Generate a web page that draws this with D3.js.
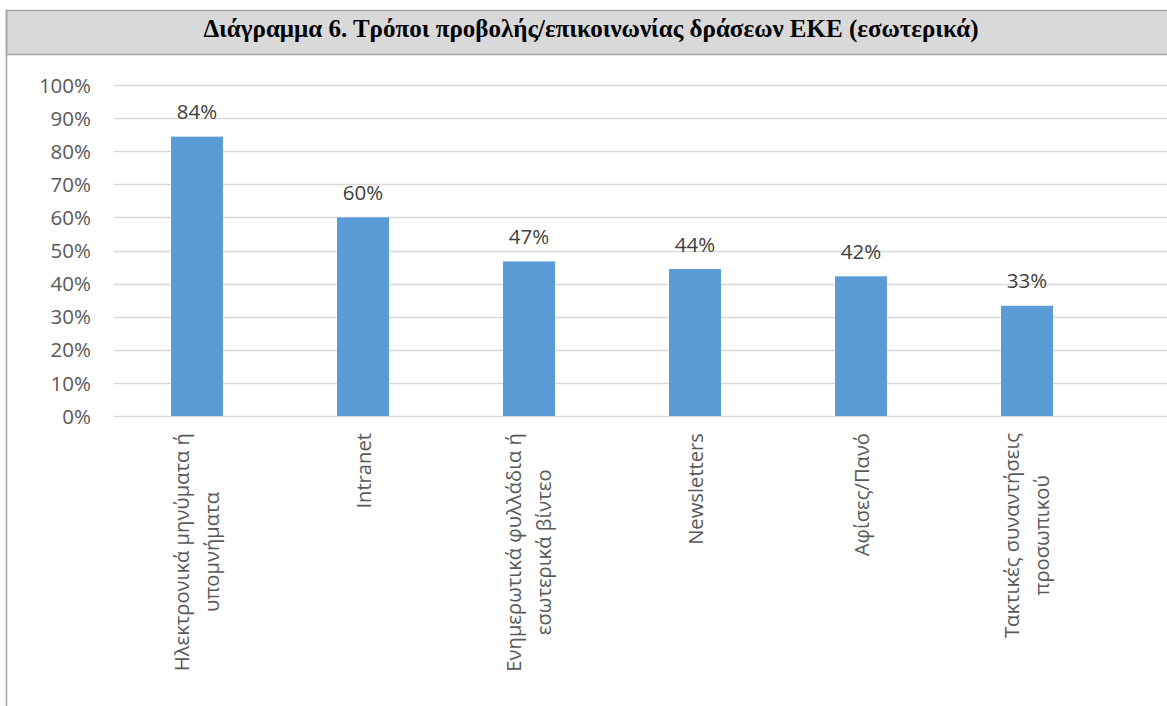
<!DOCTYPE html>
<html>
<head>
<meta charset="utf-8">
<script src="https://cdn.jsdelivr.net/npm/d3@7"></script>
<style>
  html, body { margin: 0; padding: 0; background: #ffffff; }
  svg { display: block; }
</style>
</head>
<body>
<svg id="chart" width="1167" height="706"></svg>
<script>
// Chart content
const titleText = "Διάγραμμα 6. Τρόποι προβολής/επικοινωνίας δράσεων ΕΚΕ (εσωτερικά)";
const categories = [
  ["Ηλεκτρονικά μηνύματα ή", "υπομνήματα"],
  ["Intranet"],
  ["Ενημερωτικά φυλλάδια ή", "εσωτερικά βίντεο"],
  ["Newsletters"],
  ["Αφίσες/Πανό"],
  ["Τακτικές συναντήσεις", "προσωπικού"]
];
const values = [0.844, 0.600, 0.467, 0.444, 0.422, 0.333];
const yTicks = [0, 0.1, 0.2, 0.3, 0.4, 0.5, 0.6, 0.7, 0.8, 0.9, 1.0];

const W = 1167, H = 706;
const svg = d3.select("#chart");

// Frame and title bar
svg.append("rect")
  .attr("x", 6.5).attr("y", 10.5)
  .attr("width", W).attr("height", 44)
  .attr("fill", "#d9d9d9")
  .attr("stroke", "#a5a5a5").attr("stroke-width", 1.5);
svg.append("line")
  .attr("x1", 6.5).attr("x2", 6.5).attr("y1", 10).attr("y2", H)
  .attr("stroke", "#a5a5a5").attr("stroke-width", 1.5);
svg.append("text")
  .attr("x", 591).attr("y", 37)
  .attr("text-anchor", "middle")
  .attr("font-family", "'Liberation Serif', 'Times New Roman', serif")
  .attr("font-weight", "bold")
  .attr("font-size", 25)
  .attr("fill", "#000")
  .text(titleText);

// Scales
const plotLeft = 114, plotRight = 1110, gridRight = 1167;
const y = d3.scaleLinear().domain([0, 1]).range([416, 85]);
const x = d3.scaleBand()
  .domain(d3.range(categories.length))
  .range([plotLeft, plotRight])
  .paddingInner(0.687)
  .paddingOuter(0.3435);

const fontSans = "'Open Sans', 'Segoe UI', sans-serif";

// Gridlines
svg.append("g").selectAll("line")
  .data(yTicks)
  .join("line")
  .attr("x1", plotLeft).attr("x2", gridRight)
  .attr("y1", d => Math.round(y(d)) + 0.5)
  .attr("y2", d => Math.round(y(d)) + 0.5)
  .attr("stroke", "#d9d9d9").attr("stroke-width", 1.5);

// Y axis labels
const yAxis = d3.axisLeft(y).tickValues(yTicks).tickFormat(d3.format(".0%")).tickSize(0).tickPadding(0);
const gy = svg.append("g").attr("transform", `translate(91,0)`).call(yAxis);
gy.select(".domain").remove();
gy.selectAll("text")
  .attr("font-family", fontSans)
  .attr("font-size", 20.5)
  .attr("fill", "#595959")
  .attr("dy", "0.35em");

// Bars
svg.append("g").selectAll("rect")
  .data(values)
  .join("rect")
  .attr("x", (d, i) => x(i))
  .attr("width", x.bandwidth())
  .attr("y", d => y(d))
  .attr("height", d => y(0) - y(d))
  .attr("fill", "#5b9bd5");

// Value labels
svg.append("g").selectAll("text")
  .data(values)
  .join("text")
  .attr("x", (d, i) => x(i) + x.bandwidth() / 2)
  .attr("y", d => y(d) - 17.5)
  .attr("text-anchor", "middle")
  .attr("font-family", fontSans)
  .attr("font-size", 20.5)
  .attr("fill", "#404040")
  .text(d3.format(".0%"));

// Category labels, rotated, lines centred on each other
const labelTop = 433;
categories.forEach((lines, i) => {
  const cx = x(i) + x.bandwidth() / 2;
  const g = svg.append("g")
    .attr("transform", `translate(${cx},${labelTop}) rotate(-90)`);
  const texts = g.selectAll("text")
    .data(lines)
    .join("text")
    .attr("font-family", fontSans)
    .attr("font-size", 20.2)
    .attr("fill", "#595959")
    .attr("text-anchor", "middle")
    .text(d => d);
  const maxLen = d3.max(texts.nodes(), n => n.getComputedTextLength());
  const offsets = lines.length === 1 ? [8] : [-8, 22];
  texts.attr("x", -maxLen / 2).attr("y", (d, j) => offsets[j]);
});
</script>
</body>
</html>
